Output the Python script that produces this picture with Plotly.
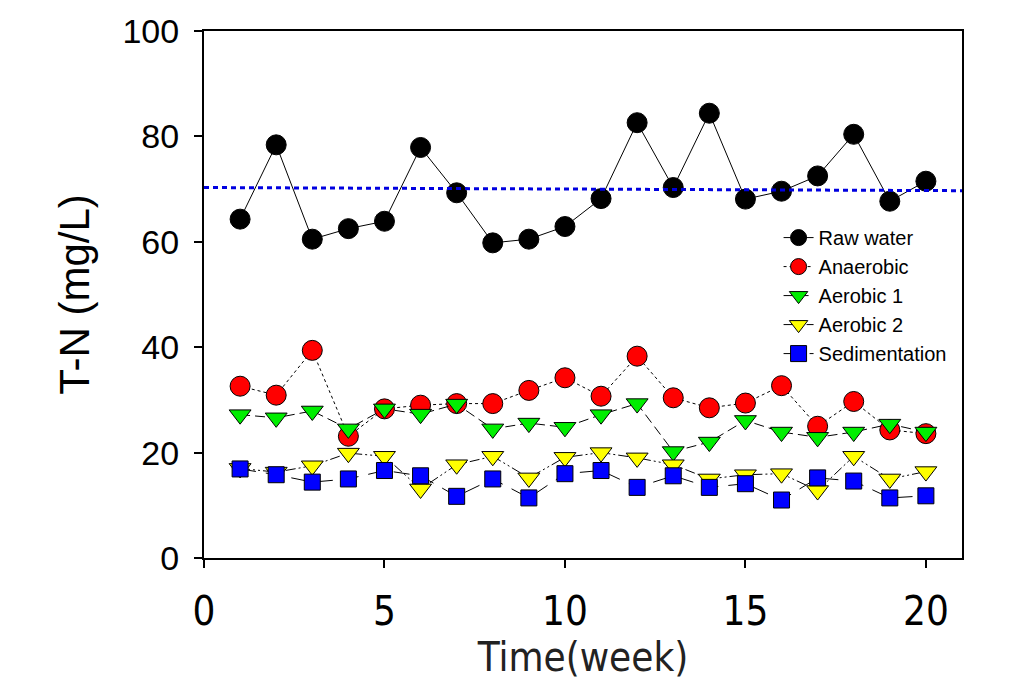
import plotly.graph_objects as go

weeks = list(range(1, 21))
raw_water = [64.3, 78.4, 60.5, 62.5, 63.9, 77.9, 69.3, 59.8, 60.5, 62.9,
             68.2, 82.6, 70.3, 84.4, 68.1, 69.6, 72.5, 80.4, 67.7, 71.5]
anaerobic = [32.6, 30.9, 39.4, 23.1, 28.3, 29.0, 29.3, 29.3, 31.8, 34.2,
             30.7, 38.3, 30.4, 28.5, 29.4, 32.7, 25.0, 29.7, 24.3, 23.6]
aerobic1 = [27.2, 26.6, 27.9, 24.5, 28.3, 27.3, 29.2, 24.5, 25.6, 24.8,
            27.2, 29.3, 20.2, 22.0, 26.1, 23.9, 22.9, 23.9, 25.4, 23.9]
aerobic2 = [17.0, 16.3, 17.5, 19.9, 19.3, 13.1, 17.7, 19.3, 15.2, 19.1,
            20.0, 19.0, 17.7, 15.0, 15.8, 16.0, 12.8, 19.3, 15.0, 16.4]
sedimentation = [16.9, 15.8, 14.4, 15.0, 16.6, 15.6, 11.7, 15.0, 11.4, 16.0,
                 16.6, 13.4, 15.6, 13.4, 14.1, 11.0, 15.2, 14.6, 11.4, 11.8]
trend_x = [0, 21]
trend_y = [70.3, 69.7]

x_ticks = [0, 5, 10, 15, 20]
y_ticks = [0, 20, 40, 60, 80, 100]

series = [
    ("Raw water", raw_water, "circle", "black", 20, "solid"),
    ("Anaerobic", anaerobic, "circle", "#ff0000", 20, "dot"),
    ("Aerobic 1", aerobic1, "triangle-down", "#00ee00", 19, "10px,5px"),
    ("Aerobic 2", aerobic2, "triangle-down", "#ffff00", 19, "10px,3px,2px,3px,2px,3px"),
    ("Sedimentation", sedimentation, "square", "#0000ff", 16, "16px,10px"),
]

narrow = "Liberation Sans Narrow, Arial Narrow, DejaVu Sans Condensed"
regular = "Liberation Sans, Arial"

fig = go.Figure()
for name, vals, sym, col, size, dash in series:
    fig.add_trace(go.Scatter(
        x=weeks, y=vals, name=name, mode="lines+markers",
        line=dict(color="black", width=1, dash=dash),
        marker=dict(symbol=sym, size=size, color=col,
                    line=dict(color="black", width=1)),
    ))

fig.add_trace(go.Scatter(
    x=trend_x, y=trend_y, mode="lines", showlegend=False,
    line=dict(color="#0000e0", width=3, dash="5px,4px"),
))

fig.update_layout(
    width=1002, height=679,
    margin=dict(l=196, r=48, t=23, b=129),
    paper_bgcolor="white", plot_bgcolor="white",
    showlegend=True,
    legend=dict(
        x=0.758, y=0.645, xanchor="left", yanchor="top",
        font=dict(family=regular, size=20, color="black"),
        bgcolor="rgba(0,0,0,0)", tracegroupgap=0,
    ),
    xaxis=dict(
        range=[0, 21], tickvals=x_ticks, ticktext=[str(v) for v in x_ticks],
        automargin=False,
        showgrid=False, zeroline=False,
        showline=True, linecolor="black", linewidth=2, mirror=True,
        ticks="outside", ticklen=8, tickwidth=1.5, tickcolor="black",
        ticklabelstandoff=9,
        tickfont=dict(family=narrow, size=40, color="black"),
        title=dict(text="Time(week)", standoff=9,
                   font=dict(family=narrow, size=40, color="#222")),
    ),
    yaxis=dict(
        range=[0, 100], tickvals=y_ticks,
        automargin=False,
        showgrid=False, zeroline=False,
        showline=True, linecolor="black", linewidth=2, mirror=True,
        ticks="outside", ticklen=8, tickwidth=1.5, tickcolor="black",
        ticklabelstandoff=8,
        tickfont=dict(family=regular, size=34, color="black"),
        title=dict(text="T-N (mg/L)", standoff=20,
                   font=dict(family=regular, size=42, color="black")),
    ),
)

fig.write_html("out.html")
